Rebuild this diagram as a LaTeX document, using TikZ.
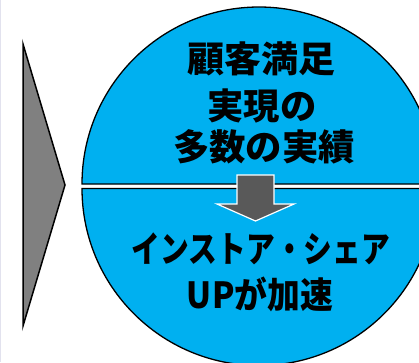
\documentclass[tikz,border=0pt]{standalone}
\usepackage{fontspec}
\newfontfamily\jp{Noto Sans CJK JP Black}
\definecolor{cyanfill}{HTML}{00B0F0}
\definecolor{arrowgray}{HTML}{595959}
\definecolor{trigray}{HTML}{808080}
\definecolor{edgelav}{RGB}{226,226,238}
\tikzset{
  half/.style={fill=cyanfill, draw=black, line width=1.3pt},
  txt/.style={anchor=base, inner sep=0pt, font=\jp\fontsize{36}{36}\selectfont, text=black},
}
\newcommand\fitw[2]{\resizebox{#1}{\height}{#2}}
\begin{document}
\begin{tikzpicture}[x=1pt,y=1pt]
\useasboundingbox (0,0) rectangle (419,362);
\fill[white] (0,0) rectangle (419,362);
\fill[edgelav] (0,0) rectangle (1.2,362);
% triangle
\draw[fill=trigray, line width=1.5pt, line join=miter] (23,318) -- (65,177) -- (23,36) -- cycle;
% circle halves
\begin{scope}
\clip (0,0) rectangle (419,362);
\path[half] (82,178) arc[start angle=180, end angle=0, x radius=177, y radius=177] -- cycle;
\path[half] (82,173.5) arc[start angle=180, end angle=360, x radius=177, y radius=177] -- cycle;
\end{scope}
% arrow
\draw[fill=arrowgray, draw=white, line width=1.2pt, line join=miter]
  (237,187) -- (274,187) -- (274,158) -- (294,158) -- (255.5,141) -- (217,158) -- (237,158) -- cycle;
% texts
\node[txt] (l1) at (261,289.5) {\fitw{148pt}{顧客満足}};
\node[txt] (l2) at (262,242.5) {\fitw{109pt}{実現の}};
\node[txt] (l3) at (264,201.5) {\fitw{182pt}{多数の実績}};
\node[txt] (l4) at (261,99.5) {\fitw{258pt}{インストア・シェア}};
\node[txt] (l5) at (260,54) {\fitw{146pt}{UPが加速}};
\end{tikzpicture}
\end{document}
